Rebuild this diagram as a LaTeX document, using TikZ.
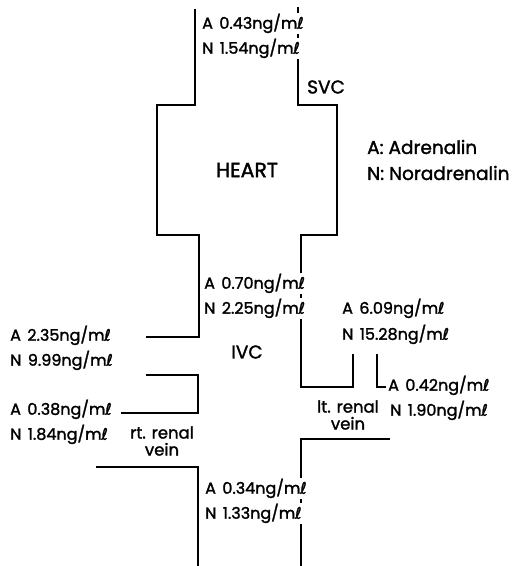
\documentclass[tikz,border=0pt]{standalone}
\usepackage{fontspec}
\setmainfont{Poppins}[FakeBold=1.6]
\newfontfamily\symfont{DejaVu Sans}[FakeBold=1.4]
\usepackage{tikz}
\usetikzlibrary{positioning}

\newcommand{\mlu}{m\kern-0.3pt{\symfont ℓ}}
\newcommand{\conc}[2]{#1\hspace{0.4em}#2ng/\mlu}

\begin{document}
\begin{tikzpicture}[
        x=1pt, y=-1pt,
        vessel/.style={line width=1.5pt, line cap=rect},
        val/.style={anchor=mid west, fill=white, inner sep=1pt, font=\fontsize{16}{18}\selectfont},
        lbl/.style={inner sep=0pt, align=center, font=\fontsize{18.5}{20}\selectfont},
        small/.style={inner sep=0pt, align=center, font=\fontsize{16.5}{17}\selectfont}
    ]
        \useasboundingbox (0,0) rectangle (512,566);

        % SVC, heart and upper IVC
        \draw[vessel] (195,10) -- (195,105) -- (157,105) -- (157,235) -- (199,235) -- (199,337) -- (147,337);
        \draw[vessel] (298,8) -- (298,105) -- (337,105) -- (337,235) -- (301,235) -- (301,387) -- (353,387) -- (353,355);

        % rt. renal vein
        \draw[vessel] (147,375) -- (198,375) -- (198,413) -- (122,413);
        \draw[vessel] (97,467) -- (198,467) -- (198,566);

        % lt. renal vein
        \draw[vessel] (377,355) -- (377,387) -- (385,387);
        \draw[vessel] (389,439) -- (301,439) -- (301,566);

        % SVC values
        \node[val] (svcA) at (201,26) {\conc{A}{0.43}};
        \node[val] (svcN) at (201,51) {\conc{N}{1.54}};
        \node[lbl, anchor=west] (svc) at (307,87) {SVC};

        \node[lbl, font=\fontsize{20.5}{22}\selectfont] (heart) at (247,170) {HEART};

        % key
        \node[lbl, anchor=west] (keyA) at (367,147) {A: Adrenalin};
        \node[lbl, anchor=west] (keyN) at (367,173) {N: Noradrenalin};

        % IVC above renal veins
        \node[val] (ivcA) at (203,286) {\conc{A}{0.70}};
        \node[val] (ivcN) at (203,311) {\conc{N}{2.25}};
        \node[lbl] (ivc) at (247,352) {IVC};

        \node[val] (upA) at (9,338) {\conc{A}{2.35}};
        \node[val] (upN) at (9,363) {\conc{N}{9.99}};

        \node[val] (lrvA) at (341,311) {\conc{A}{6.09}};
        \node[val] (lrvN) at (341,337) {\conc{N}{15.28}};

        \node[val] (lbrA) at (387,388) {\conc{A}{0.42}};
        \node[val] (lbrN) at (389,413) {\conc{N}{1.90}};
        \node[small] (lrv) at (348,415) {lt. renal\\vein};

        \node[val] (rrvA) at (9,412) {\conc{A}{0.38}};
        \node[val] (rrvN) at (9,437) {\conc{N}{1.84}};
        \node[small] (rrv) at (162,441) {rt. renal\\vein};

        % IVC below renal veins
        \node[val] (lowA) at (204,491) {\conc{A}{0.34}};
        \node[val] (lowN) at (204,516) {\conc{N}{1.33}};
    \end{tikzpicture}
\end{document}
